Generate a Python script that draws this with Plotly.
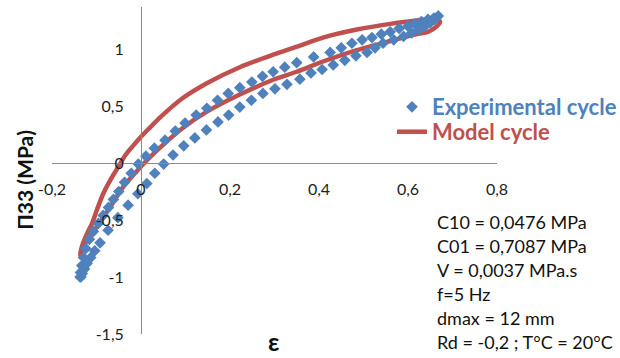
import plotly.graph_objects as go

# ---- data ----
exp_strain = [
    -0.137, -0.136, -0.133, -0.129, -0.124, -0.116, -0.107, -0.096, -0.085, -0.073,
    -0.062, -0.050, -0.037, -0.022, -0.006, 0.011, 0.030, 0.054, 0.077, 0.099,
    0.124, 0.148, 0.172, 0.196, 0.222, 0.249, 0.273, 0.297, 0.323, 0.350,
    0.388, 0.425, 0.450, 0.474, 0.497, 0.519, 0.540, 0.560, 0.580, 0.600,
    0.615, 0.630, 0.645, 0.658, 0.668,
    0.660, 0.650, 0.638, 0.624, 0.608, 0.590, 0.568, 0.544, 0.526, 0.508,
    0.483, 0.458, 0.432, 0.407, 0.382, 0.357, 0.328, 0.301, 0.274, 0.248,
    0.222, 0.197, 0.173, 0.147, 0.121, 0.096, 0.072, 0.051, 0.031, 0.013,
    -0.007, -0.029, -0.052, -0.074, -0.092, -0.104, -0.113, -0.121, -0.127, -0.132,
    -0.135,
]
exp_stress = [
    -1.00, -0.96, -0.90, -0.83, -0.75, -0.67, -0.60, -0.53, -0.46, -0.39,
    -0.32, -0.25, -0.17, -0.09, -0.01, 0.06, 0.13, 0.20, 0.28, 0.35,
    0.42, 0.48, 0.55, 0.61, 0.66, 0.71, 0.76, 0.80, 0.84, 0.88,
    0.93, 0.97, 1.01, 1.05, 1.08, 1.10, 1.13, 1.15, 1.18, 1.20,
    1.22, 1.24, 1.26, 1.27, 1.29,
    1.26, 1.23, 1.20, 1.17, 1.14, 1.11, 1.08, 1.05, 1.01, 0.97,
    0.94, 0.90, 0.86, 0.82, 0.79, 0.735, 0.69, 0.65, 0.61, 0.55,
    0.49, 0.42, 0.36, 0.29, 0.22, 0.15, 0.07, -0.01, -0.09, -0.18,
    -0.27, -0.37, -0.48, -0.59, -0.70, -0.77, -0.83, -0.88, -0.93, -0.97,
    -1.00,
]

model_strain = [
    -0.137, -0.130, -0.120, -0.110, -0.098, -0.085, -0.069, -0.052, -0.035, -0.018,
    0.000, 0.020, 0.043, 0.094, 0.148, 0.222, 0.297, 0.350, 0.409, 0.485,
    0.560, 0.620, 0.655, 0.672,
    0.665, 0.645, 0.620, 0.560, 0.485, 0.409, 0.350, 0.297, 0.222, 0.148,
    0.088, 0.036, 0.000, -0.009, -0.040, -0.070, -0.099, -0.126, -0.137,
]
model_stress = [
    -0.81, -0.70, -0.61, -0.53, -0.40, -0.27, -0.15, -0.04, 0.07, 0.15,
    0.23, 0.31, 0.40, 0.57, 0.70, 0.84, 0.95, 1.02, 1.10, 1.17,
    1.22, 1.25, 1.26, 1.24,
    1.20, 1.15, 1.13, 1.07, 0.99, 0.89, 0.80, 0.73, 0.60, 0.45,
    0.29, 0.11, -0.03, -0.07, -0.21, -0.39, -0.56, -0.71, -0.81,
]

x_tick_vals = [-0.2, 0, 0.2, 0.4, 0.6, 0.8]
x_tick_text = ["-0,2", "0", "0,2", "0,4", "0,6", "0,8"]
y_tick_vals = [-1.5, -1, -0.5, 0, 0.5, 1]
y_tick_text = ["-1,5", "-1", "-0,5", "0", "0,5", "1"]

param_lines = [
    "C10 = 0,0476 MPa",
    "C01 = 0,7087 MPa",
    "V = 0,0037 MPa.s",
    "f=5 Hz",
    "dmax = 12 mm",
    "Rd = -0,2 ; T°C = 20°C",
]

BLUE = "#4F81BD"
RED = "#C0504D"
FONT = "Lato"

x_range = [-0.2, 0.8]
y_range = [-1.5, 1.368]

fig = go.Figure()

fig.add_trace(go.Scatter(
    x=model_strain, y=model_stress, mode="lines",
    line=dict(color=RED, width=4.5, shape="spline", smoothing=0.8),
    name='<b><span style="color:%s">Model cycle</span></b>' % RED,
    legend="legend2",
))
fig.add_trace(go.Scatter(
    x=exp_strain, y=exp_stress, mode="markers",
    marker=dict(symbol="diamond", size=9, color=BLUE),
    name='<b><span style="color:%s">Experimental cycle</span></b>' % BLUE,
    legend="legend",
))

x_cross = (0 - y_range[0]) / (y_range[1] - y_range[0])
y_cross = (0 - x_range[0]) / (x_range[1] - x_range[0])

axis_common = dict(
    showline=True, linecolor="#8C8C8C", linewidth=1,
    showgrid=False, zeroline=False, ticks="",
    tickfont=dict(family=FONT, size=16, color="#222222"),
    anchor="free",
)

fig.update_layout(
    width=620, height=358,
    margin=dict(l=52, r=123, t=7, b=24, autoexpand=False),
    paper_bgcolor="white", plot_bgcolor="white",
    font=dict(family=FONT),
    xaxis=dict(range=x_range, position=x_cross, tickvals=x_tick_vals,
               ticktext=x_tick_text, ticklabelstandoff=12, **axis_common),
    yaxis=dict(range=y_range, position=y_cross, tickvals=y_tick_vals,
               ticktext=y_tick_text, ticklabelstandoff=14, **axis_common),
    legend=dict(x=0.764, y=0.694, xanchor="left", yanchor="middle",
                bgcolor="rgba(0,0,0,0)", borderwidth=0,
                font=dict(family=FONT, size=22)),
    legend2=dict(x=0.764, y=0.618, xanchor="left", yanchor="middle",
                 bgcolor="rgba(0,0,0,0)", borderwidth=0,
                 font=dict(family=FONT, size=22)),
    showlegend=True,
)

PLOT_H = 327.0
for i, line in enumerate(param_lines):
    fig.add_annotation(
        text=line, xref="paper", yref="paper",
        x=0.861, y=(112 - 24 * i) / PLOT_H, xanchor="left", yanchor="middle",
        align="left", showarrow=False,
        font=dict(family=FONT, size=18, color="#111111"),
    )
fig.add_annotation(
    text="<b>П33 (MPa)</b>", xref="paper", yref="paper",
    x=-0.061, y=0.471, xanchor="center", yanchor="middle", textangle=-90,
    showarrow=False, font=dict(family=FONT, size=21, color="#111111"),
)
fig.add_annotation(
    text="<b>ε</b>", xref="paper", yref="paper",
    x=0.497, y=-0.021, xanchor="center", yanchor="middle",
    showarrow=False, font=dict(family=FONT, size=25, color="#111111"),
)

# remove the default 8px page margin so the figure fills the window exactly
fig.write_html(
    "out.html",
    config={"displayModeBar": False},
    post_script="document.body.style.margin='0';document.body.style.overflow='hidden';",
)
